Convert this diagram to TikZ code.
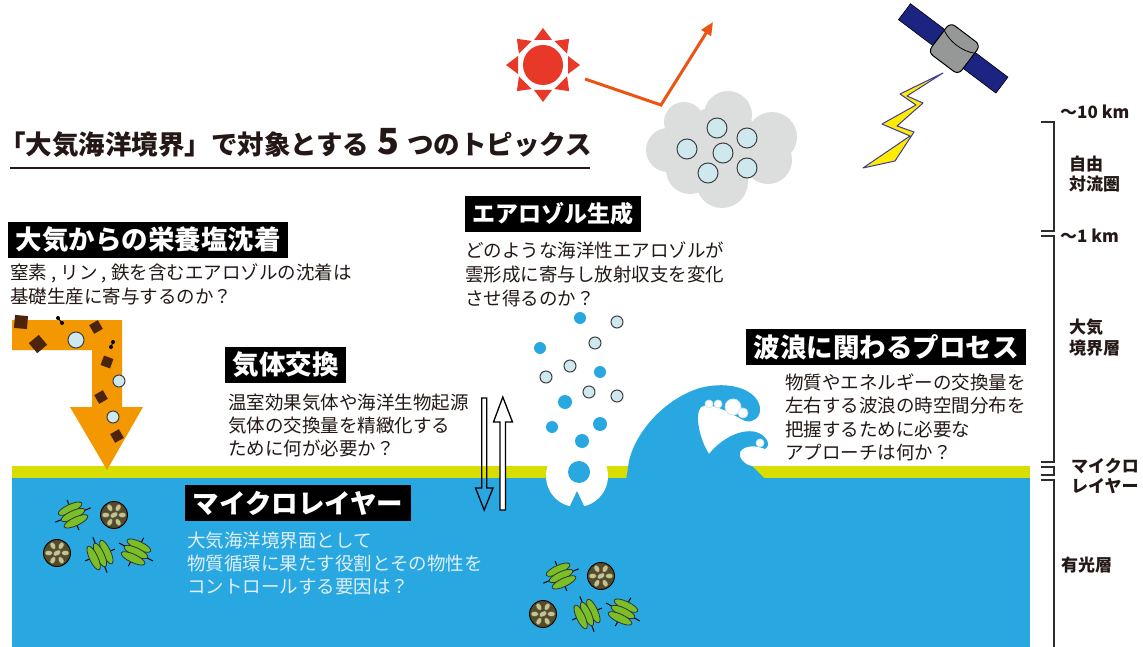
\documentclass[tikz,border=0pt]{standalone}
\usepackage{fontspec}
\setmainfont{Noto Sans CJK JP}
\usetikzlibrary{arrows.meta}
\definecolor{sea}{RGB}{41,167,224}
\definecolor{film}{RGB}{216,222,0}
\definecolor{dep}{RGB}{243,152,0}
\definecolor{sunred}{RGB}{232,56,40}
\definecolor{rayline}{RGB}{234,85,20}
\definecolor{cloudgray}{RGB}{220,221,221}
\definecolor{aerosol}{RGB}{207,232,238}
\definecolor{panelblue}{RGB}{28,36,130}
\definecolor{bodygray}{RGB}{150,152,152}
\definecolor{boltyellow}{RGB}{255,236,0}
\definecolor{boltedge}{RGB}{60,60,160}
\definecolor{diagreen}{RGB}{122,190,40}
\definecolor{coccobrown}{RGB}{85,75,40}
\definecolor{coccolight}{RGB}{196,196,140}
\definecolor{dust}{RGB}{75,35,15}
\definecolor{ink}{RGB}{35,24,21}
\definecolor{palewhite}{RGB}{222,240,250}
\definecolor{scalegray}{RGB}{45,45,45}
\begin{document}
\begin{tikzpicture}[x=1pt,y=-1pt,
  head/.style={fill=black, text=white, font=\bfseries\fontsize{26.5}{26.5}\selectfont,
    inner xsep=7.5pt, inner ysep=0pt, minimum height=36pt, anchor=west},
  body/.style={text=ink, font=\fontsize{18.5}{18.5}\selectfont, inner sep=0pt, anchor=base west},
  paletext/.style={body, text=palewhite},
  scalelabel/.style={text=ink, font=\bfseries\fontsize{17}{17}\selectfont, inner sep=0pt, anchor=base west},
  bubble/.style={fill=aerosol, draw=black!75, line width=1pt},
  bracketline/.style={draw=scalegray, line width=1.6pt},
  grain/.pic={\fill[dust] (-5,-5) rectangle (5,5);},
  biggrain/.pic={\fill[dust] (-6.5,-6.5) rectangle (6.5,6.5);},
  diatom/.pic={
    \draw[black, line width=1pt] (-19,-1) -- (19,1) (1,-16) -- (-1,16);
    \foreach \yy in {-7,0,7}
      \filldraw[fill=diagreen, draw=black!80, line width=0.8pt] (0,\yy) ellipse[x radius=13, y radius=4.2];
  },
  cocco/.pic={
    \filldraw[fill=coccobrown, draw=black, line width=0.9pt] (0,0) circle[radius=13.5];
    \foreach \a in {0,60,...,300}
      \filldraw[fill=coccolight, draw=black!70, line width=0.4pt, rotate=\a] (8.3,0) ellipse[x radius=3.9, y radius=2.6];
    \filldraw[fill=coccolight, draw=black!70, line width=0.4pt, rotate=30] (0,0) ellipse[x radius=4.3, y radius=2.6];
  }
]
\useasboundingbox (0,0) rectangle (1143,647);

% ---- sea, surface film
\fill[sea] (12,478) rectangle (1030,647);
\fill[film] (12,466) rectangle (1030,478);

% ---- title
\node[anchor=base west, inner sep=0pt, text=ink, font=\bfseries\fontsize{26.5}{26.5}\selectfont] (title) at (-1,155)
  {「大気海洋境界」で対象とする\hspace{8pt}{\fontsize{36}{36}\selectfont 5}\hspace{8pt}つのトピックス};
\draw[ink, line width=1.2pt] (10,168) -- (590,168);

% ---- sun and reflected radiation
\fill[sunred] (543,65) circle[radius=20];
\foreach \a in {0,45,...,315}{
  \begin{scope}[shift={(543,65)}, rotate=\a]
    \fill[sunred] (37,0) -- (25,9) -- (25,-9) -- cycle;
  \end{scope}
}
\draw[rayline, line width=3pt, -{Triangle[length=13pt,width=11pt]}] (585,79) -- (661,105) -- (713,22);

% ---- cloud with droplets
\fill[cloudgray] (728,115) circle[radius=24] (772,137) circle[radius=25]
  (768,160) circle[radius=24] (722,182) circle[radius=26] (690,170) circle[radius=24]
  (668,150) circle[radius=22] (684,122) circle[radius=20] (720,148) circle[radius=42];
\foreach \p in {(717,128),(747,138),(687,149),(723,153),(708,173),(747,168)}
  \path[bubble] \p circle[radius=10];

% ---- satellite
\begin{scope}[shift={(954,49)}, rotate=-37]
  \filldraw[fill=panelblue, draw=black, line width=0.6pt] (-62,-10) rectangle (-18,10);
  \filldraw[fill=panelblue, draw=black, line width=0.6pt] (18,-10) rectangle (60,10);
  \filldraw[fill=bodygray, draw=black, line width=1pt, rounded corners=6pt] (-19,-19) rectangle (19,18);
  \draw[black, line width=0.8pt] (-19,-9) .. controls (-8,-3) and (8,-3) .. (19,-9);
\end{scope}

% ---- lightning
\filldraw[fill=boltyellow, draw=boltedge, line width=1pt, line join=round]
  (943,73) -- (900,94) -- (916,105) -- (882,124) -- (910,136) -- (863,168)
  -- (895,161) -- (914,132) -- (897,126) -- (923,103) -- (907,96) -- cycle;

% ---- vertical scale
\draw[bracketline] (1041,122) -- (1054,122) -- (1054,231) -- (1041,231);
\draw[bracketline] (1041,236) -- (1054,236) -- (1054,462) -- (1041,462);
\draw[bracketline] (1041,467) -- (1054,467) -- (1054,475) -- (1041,475);
\draw[bracketline] (1041,480) -- (1054,480) -- (1054,648);
\node[scalelabel] (s1) at (1060,119) {〜10 km};
\node[scalelabel] (s2a) at (1069,171) {自由};
\node[scalelabel] (s2b) at (1069,191) {対流圏};
\node[scalelabel] (s3) at (1060,242) {〜1 km};
\node[scalelabel] (s4a) at (1069,333) {大気};
\node[scalelabel] (s4b) at (1069,354) {境界層};
\node[scalelabel] (s5a) at (1071,472) {マイクロ};
\node[scalelabel] (s5b) at (1071,492) {レイヤー};
\node[scalelabel] (s6) at (1061,571) {有光層};

% ---- deposition arrow with particles
\fill[dep] (12,320) -- (122,320) -- (122,407) -- (143,407) -- (107,470) -- (70,407)
  -- (92,407) -- (92,350) -- (12,350) -- cycle;
\pic[rotate=-5] at (21,322) {biggrain};
\pic[rotate=40] at (38,344) {biggrain};
\pic[rotate=30] at (96,327) {grain};
\pic[rotate=-20] at (107,362) {grain};
\pic[rotate=30] at (101,397) {grain};
\pic[rotate=30] at (117,436) {grain};
\path[bubble] (76,340) circle[radius=8];
\path[bubble] (119,381) circle[radius=6];
\path[bubble] (113,417) circle[radius=6];
\draw[black, line width=1pt] (58,318) -- (62,323);
\fill[black] (58,318) circle[radius=2] (62,323) circle[radius=2];
\draw[black, line width=1pt] (113,342) -- (111,347);
\fill[black] (113,342) circle[radius=2] (111,347) circle[radius=2];

% ---- gas exchange arrows
\draw[black, line width=1.3pt, line join=miter] (481.7,398) -- (486.7,398) -- (486.7,488) -- (493,488)
  -- (484.2,510) -- (475.5,488) -- (481.7,488) -- cycle;
\filldraw[fill=white, draw=black, line width=1.3pt] (500,510) -- (505.5,510) -- (505.5,422)
  -- (512.5,422) -- (502.8,397) -- (493.5,422) -- (500,422) -- cycle;

% ---- rising spray and bubbles
\fill[white] (577,476) circle[radius=31];
\fill[sea] (569,508) -- (577,491) -- (585,508) -- cycle;
\fill[sea] (579,472) circle[radius=11];
\foreach \p/\r in {(580,318)/6,(540,348)/6,(600,372)/6,(565,402)/7,(552,427)/6,(600,424)/7,(582,441)/7}
  \fill[sea] \p circle[radius=\r];
\foreach \p in {(617,322),(595,343),(570,366),(546,377),(589,392),(617,396)}
  \path[bubble] \p circle[radius=6];

% ---- breaking wave
\fill[sea] (626,480) -- (628,468)
  .. controls (630,440) and (660,400) .. (700,388)
  .. controls (730,380) and (758,390) .. (760,408)
  .. controls (761,418) and (752,423) .. (745,421)
  .. controls (725,410) and (710,402) .. (701,407)
  .. controls (694,415) and (700,440) .. (709,454)
  .. controls (720,440) and (740,428) .. (756,432)
  .. controls (766,435) and (772,445) .. (765,449)
  .. controls (758,446) and (745,444) .. (740,452)
  .. controls (738,458) and (745,465) .. (752,466)
  -- (764,478) -- (764,482) -- (626,482) -- cycle;
\foreach \p/\r in {(709,404)/4,(718,404)/4,(733,407)/8,(743,413)/5,(760,443)/4}
  \filldraw[fill=white, draw=aerosol, line width=0.8pt] \p circle[radius=\r];

% ---- plankton
\pic[rotate=25] at (73,515) {diatom};
\pic at (114,515) {cocco};
\pic at (57,553) {cocco};
\pic[rotate=-65] at (100,555) {diatom};
\pic[rotate=-25] at (136,552) {diatom};
\pic[rotate=25] at (561,576) {diatom};
\pic at (601,576) {cocco};
\pic at (543,614) {cocco};
\pic[rotate=-65] at (587,614) {diatom};
\pic[rotate=-25] at (623,612) {diatom};

% ---- topic: deposition
\node[head] (h1) at (8,240) {大気からの栄養塩沈着};
\node[body] (b1a) at (10,279) {窒素 , リン , 鉄を含むエアロゾルの沈着は};
\node[body] (b1b) at (10,303.5) {基礎生産に寄与するのか？};

% ---- topic: aerosol production
\node[head, font=\bfseries\fontsize{23}{23}\selectfont] (h2) at (465,214) {エアロゾル生成};
\node[body] (b2a) at (465,257) {どのような海洋性エアロゾルが};
\node[body] (b2b) at (465,281) {雲形成に寄与し放射収支を変化};
\node[body] (b2c) at (465,305) {させ得るのか？};

% ---- topic: gas exchange
\node[head] (h3) at (225,365) {気体交換};
\node[body] (b3a) at (228,409) {温室効果気体や海洋生物起源};
\node[body] (b3b) at (228,432) {気体の交換量を精緻化する};
\node[body] (b3c) at (228,455) {ために何が必要か？};

% ---- topic: waves
\node[head] (h4) at (746,347) {波浪に関わるプロセス};
\node[body] (b4a) at (785,389) {物質やエネルギーの交換量を};
\node[body] (b4b) at (785,412.5) {左右する波浪の時空間分布を};
\node[body] (b4c) at (785,436) {把握するために必要な};
\node[body] (b4d) at (785,459.5) {アプローチは何か？};

% ---- topic: microlayer
\node[head] (h5) at (185,503) {マイクロレイヤー};
\node[paletext] (b5a) at (187,547) {大気海洋境界面として};
\node[paletext] (b5b) at (187,570) {物質循環に果たす役割とその物性を};
\node[paletext] (b5c) at (187,593) {コントロールする要因は？};
\end{tikzpicture}
\end{document}
